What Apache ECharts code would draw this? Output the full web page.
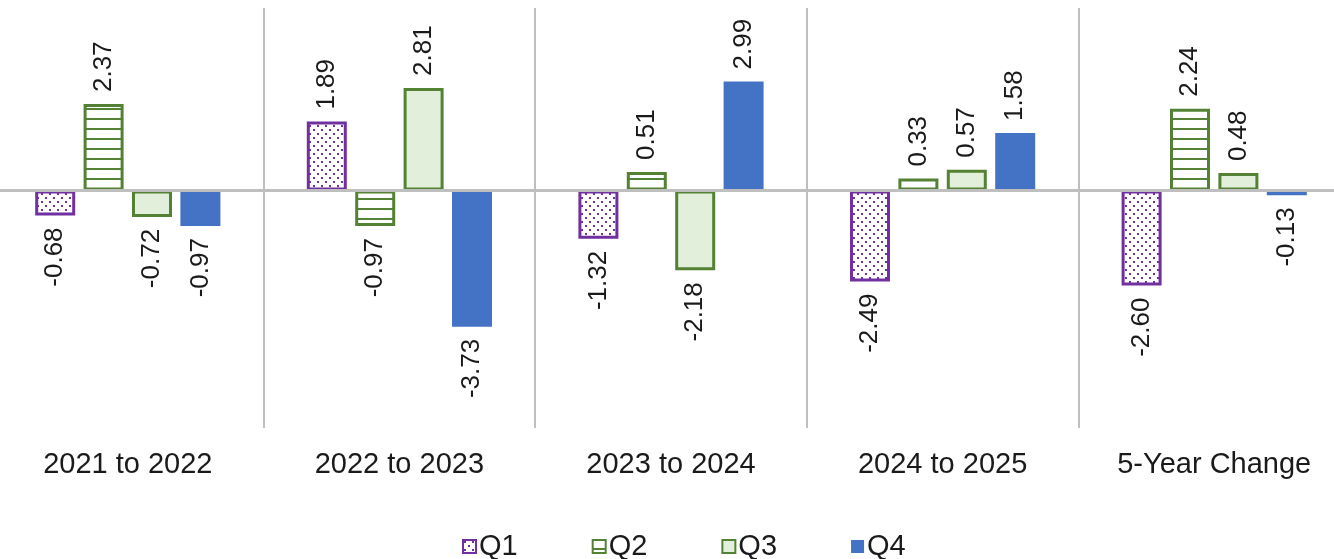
<!DOCTYPE html>
<html>
<head>
<meta charset="utf-8">
<script src="https://cdn.jsdelivr.net/npm/echarts@6/dist/echarts.min.js"></script>
<style>
  html, body { margin: 0; padding: 0; background: #fff; overflow: hidden; }
  #chart { width: 1358px; height: 559px; margin-left: -8px; }
</style>
</head>
<body>
<div id="chart"></div>
<script>
// Period-over-period change by quarter
const categories = ['2021 to 2022', '2022 to 2023', '2023 to 2024', '2024 to 2025', '5-Year Change'];
const seriesNames = ['Q1', 'Q2', 'Q3', 'Q4'];
const q1 = [-0.68, 1.89, -1.32, -2.49, -2.60];
const q2 = [2.37, -0.97, 0.51, 0.33, 2.24];
const q3 = [-0.72, 2.81, -2.18, 0.57, 0.48];
const q4 = [-0.97, -3.73, 2.99, 1.58, -0.13];

const FONT = '"Liberation Sans", Arial, sans-serif';
const PURPLE = '#7030A0';
const GREEN = '#548235';

// Fill patterns: dotted (Q1) and horizontal stripes (Q2)
function dotPattern() {
  const c = document.createElement('canvas');
  c.width = 8; c.height = 8;
  const g = c.getContext('2d');
  g.fillStyle = '#fff';
  g.fillRect(0, 0, 8, 8);
  g.fillStyle = PURPLE;
  g.fillRect(1, 1, 2, 2);
  g.fillRect(5, 5, 2, 2);
  return c;
}
function stripePattern() {
  const c = document.createElement('canvas');
  c.width = 8; c.height = 10;
  const g = c.getContext('2d');
  g.fillStyle = '#fff';
  g.fillRect(0, 0, 8, 10);
  g.fillStyle = GREEN;
  g.fillRect(0, 8, 8, 2);
  return c;
}

const styles = [
  { color: { image: dotPattern(), repeat: 'repeat' }, borderColor: PURPLE, borderWidth: 3 },
  { color: { image: stripePattern(), repeat: 'repeat' }, borderColor: GREEN, borderWidth: 3 },
  { color: '#E2EFDA', borderColor: GREEN, borderWidth: 3 },
  { color: '#4472C4', borderColor: '#4472C4', borderWidth: 0 }
];

function labelledData(values) {
  return values.map(v => ({
    value: v,
    label: v >= 0
      ? { position: 'top', align: 'left', verticalAlign: 'middle' }
      : { position: 'bottom', align: 'right', verticalAlign: 'middle' }
  }));
}

const allValues = [q1, q2, q3, q4];
const series = allValues.map((vals, i) => ({
  name: seriesNames[i],
  type: 'bar',
  barWidth: 40,
  barGap: '21%',
  data: labelledData(vals),
  itemStyle: styles[i],
  label: {
    show: true,
    rotate: 90,
    distance: 12,
    fontFamily: FONT,
    fontSize: 26,
    color: '#1a1a1a',
    formatter: p => p.value.toFixed(2)
  },
  markLine: i === 0 ? {
    silent: true,
    symbol: 'none',
    label: { show: false },
    lineStyle: { color: '#bfbfbf', width: 3, type: 'solid' },
    data: [{ yAxis: 0 }]
  } : undefined
}));

const chart = echarts.init(document.getElementById('chart'), null, { renderer: 'canvas' });
chart.setOption({
  animation: false,
  backgroundColor: '#fff',
  grid: { left: 0, right: 0, top: 8, bottom: 131, containLabel: false },
  legend: {
    top: 527,
    left: 465,
    itemWidth: 13,
    itemHeight: 13,
    itemGap: 74,
    icon: 'rect',
    textStyle: { fontFamily: FONT, fontSize: 29, color: '#1a1a1a', padding: [0, 0, 0, -2] },
    data: seriesNames
  },
  xAxis: {
    type: 'category',
    data: categories,
    axisLine: { show: false, onZero: false },
    axisTick: { show: false },
    splitLine: { show: true, interval: 0, lineStyle: { color: '#bfbfbf', width: 2 } },
    axisLabel: { interval: 0, margin: 22, fontFamily: FONT, fontSize: 29, color: '#1a1a1a' }
  },
  yAxis: {
    type: 'value',
    min: -6.5,
    max: 5,
    show: false,
    splitLine: { show: false }
  },
  series: series
});
</script>
</body>
</html>
